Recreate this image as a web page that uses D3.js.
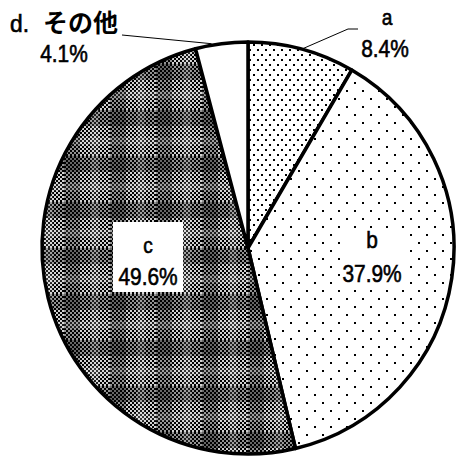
<!DOCTYPE html>
<html>
<head>
<meta charset="utf-8">
<script src="https://cdn.jsdelivr.net/npm/d3@7"></script>
<style>
  html, body { margin: 0; padding: 0; background: #fff; }
  svg { display: block; }
  text { font-family: "Liberation Sans", Arial, sans-serif; fill: #000; stroke: #000; stroke-width: 0.6px; }
</style>
</head>
<body>
<div id="chart"></div>
<script>
// Share of each category (percent), drawn clockwise from 12 o'clock
const categories = ["a", "b", "c", "d. その他"];
const values = [8.4, 37.9, 49.6, 4.1];
const valueLabels = ["8.4%", "37.9%", "49.6%", "4.1%"];

const W = 456, H = 460;
const cx = 248, cy = 248, R = 206;

const svg = d3.select("#chart").append("svg")
  .attr("width", W).attr("height", H);

const defs = svg.append("defs");

// fine dots
const pA = defs.append("pattern").attr("id", "fillA")
  .attr("patternUnits", "userSpaceOnUse").attr("width", 8).attr("height", 10);
pA.append("rect").attr("width", 8).attr("height", 10).attr("fill", "#fff");
pA.append("rect").attr("x", 1).attr("y", 1).attr("width", 2).attr("height", 2).attr("fill", "#000");
pA.append("rect").attr("x", 5).attr("y", 6).attr("width", 2).attr("height", 2).attr("fill", "#000");

// sparse dots
const pB = defs.append("pattern").attr("id", "fillB")
  .attr("patternUnits", "userSpaceOnUse").attr("width", 16).attr("height", 16);
pB.append("rect").attr("width", 16).attr("height", 16).attr("fill", "#fff");
pB.append("rect").attr("x", 2).attr("y", 2).attr("width", 2).attr("height", 2).attr("fill", "#000");
pB.append("rect").attr("x", 10).attr("y", 10).attr("width", 2).attr("height", 2).attr("fill", "#000");

// checker base
const pChk = defs.append("pattern").attr("id", "chk")
  .attr("patternUnits", "userSpaceOnUse").attr("width", 4).attr("height", 4);
pChk.append("rect").attr("width", 4).attr("height", 4).attr("fill", "#000");
pChk.append("rect").attr("x", 0).attr("y", 0).attr("width", 2).attr("height", 2).attr("fill", "#fff");
pChk.append("rect").attr("x", 2).attr("y", 2).attr("width", 2).attr("height", 2).attr("fill", "#fff");

// plaid of checker with soft darker bands
const P = 46;
const pC = defs.append("pattern").attr("id", "fillC")
  .attr("patternUnits", "userSpaceOnUse").attr("width", P).attr("height", P);
pC.append("rect").attr("width", P).attr("height", P).attr("fill", "url(#chk)");
pC.append("rect").attr("width", P).attr("height", P).attr("fill", "#000").attr("opacity", 0.18);
pC.append("rect").attr("x", 0).attr("y", 0).attr("width", P).attr("height", 16).attr("fill", "#000").attr("opacity", 0.3);
pC.append("rect").attr("x", 0).attr("y", 0).attr("width", 16).attr("height", P).attr("fill", "#000").attr("opacity", 0.3);
pC.append("rect").attr("x", 0).attr("y", 27).attr("width", P).attr("height", 8).attr("fill", "#fff").attr("opacity", 0.12);
pC.append("rect").attr("x", 27).attr("y", 0).attr("width", 8).attr("height", P).attr("fill", "#fff").attr("opacity", 0.12);

const fills = ["url(#fillA)", "url(#fillB)", "url(#fillC)", "#fff"];

const pie = d3.pie().sort(null).value(d => d)(values);
const arc = d3.arc().innerRadius(0).outerRadius(R);

const g = svg.append("g").attr("transform", `translate(${cx},${cy})`);

g.selectAll("path.slice").data(pie).join("path")
  .attr("class", "slice")
  .attr("d", arc)
  .attr("fill", (d, i) => fills[i])
  .attr("stroke", "#000")
  .attr("stroke-width", 3.5)
  .attr("stroke-linejoin", "round");

// point on the rim at a slice's mid angle
const rim = (d, r = R) => {
  const a = (d.startAngle + d.endAngle) / 2;
  return [cx + r * Math.sin(a), cy - r * Math.cos(a)];
};

const fontSize = 24;
const sx = 0.87;

function label(x, y, str, size = fontSize, opts = {}) {
  const t = svg.append("text")
    .attr("transform", `translate(${x},${y}) scale(${opts.sx || sx},1)`)
    .attr("text-anchor", opts.anchor || "middle")
    .attr("font-size", size)
    .text(str);
  if (opts.family) t.style("font-family", opts.family);
  if (opts.weight) t.attr("font-weight", opts.weight);
  if (opts.stroke !== undefined) t.style("stroke-width", opts.stroke);
  return t;
}

// leader lines for the two small slices
const ea = rim(pie[0]);
svg.append("polyline")
  .attr("points", [[358, 29], [348, 29], ea].map(p => p.join(",")).join(" "))
  .attr("fill", "none").attr("stroke", "#000").attr("stroke-width", 1);

const ed = rim(pie[3]);
svg.append("line")
  .attr("x1", 122).attr("y1", 35).attr("x2", ed[0] - 10).attr("y2", ed[1])
  .attr("stroke", "#000").attr("stroke-width", 1);

// inside label boxes
svg.append("rect").attr("x", 340).attr("y", 228).attr("width", 68).attr("height", 62).attr("fill", "#fff");
svg.append("rect").attr("x", 113).attr("y", 222).attr("width", 70).attr("height", 70).attr("fill", "#fff");

// a
label(387, 25, categories[0], 22);
label(385, 57, valueLabels[0]);
// b
label(372, 248, categories[1], 24);
label(372, 282, valueLabels[1]);
// c
label(148, 253, categories[2], 22);
label(148, 285, valueLabels[2]);
// d
label(10, 32, "d.", 24, { anchor: "start", sx: 0.95 });
label(43, 32, "その他", 25, { anchor: "start", sx: 1, family: "'Noto Sans CJK JP', sans-serif", weight: 700, stroke: 0 });
label(64, 62, valueLabels[3]);
</script>
</body>
</html>
